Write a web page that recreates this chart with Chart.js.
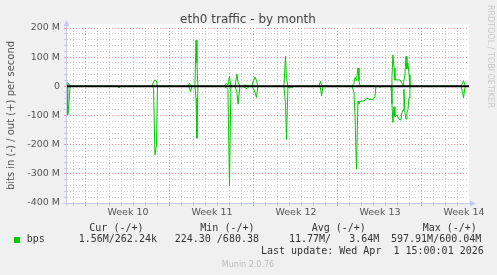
<!DOCTYPE html>
<html>
<head>
<meta charset="utf-8">
<script src="https://cdn.jsdelivr.net/npm/chart.js@4/dist/chart.umd.min.js"></script>
<style>
  html, body { margin: 0; padding: 0; background: #f0f0f0; }
  #wrap { width: 497px; height: 275px; }
</style>
</head>
<body>
<div id="wrap"><canvas id="traffic" width="497" height="275"></canvas></div>
<script>
// days since Monday of week 10 (2 h samples)
const days = [
  -1.58, -1.54, -1.50, -1.42, -1.33,
  2.67, 2.75, 2.83,
  5.50, 5.63, 5.75, 5.88, 5.96,
  8.50, 8.63, 8.71, 8.83,
  9.08, 9.17, 9.25, 9.33,
  11.58, 11.67, 11.83, 11.96, 12.08,
  12.42, 12.58, 12.67, 12.83,
  13.08, 13.25, 13.42, 13.58,
  13.83, 13.92, 14.08, 14.21, 14.33,
  16.50, 16.63, 16.71, 16.83, 17.17, 17.25,
  19.42, 19.54, 19.63, 19.75,
  22.17, 22.33, 22.42, 22.54, 22.67, 22.75, 22.83, 23.17, 23.42, 23.67, 23.92, 24.08, 24.17,
  24.42, 24.50, 24.67,
  25.42, 25.50, 25.58, 25.67, 25.75, 25.92, 26.04, 26.17, 26.25, 26.33, 26.42, 26.50,
  26.58, 26.67, 26.75, 26.83, 26.92, 27.00,
  31.25, 31.38, 31.46, 31.58, 31.67
];
// out (+) in Mbit/s
const outMbps = [
  0, 5, 13, 8, 0,
  0, 0, 0,
  0, 15, 22, 18, 0,
  0, 10, 5, 0,
  0, 158, 80, 0,
  0, 10, 5, 34, 0,
  0, 42, 15, 0,
  0, 5, 3, 0,
  0, 15, 32, 20, 0,
  0, 103, 30, 0, 0, 0,
  0, 17, 5, 0,
  0, 10, 30, 20, 63, 20, 3, 3, 3, 3, 3, 0, 0,
  0, 0, 0,
  0, 30, 108, 63, 22, 22, 22, 22, 22, 10, 0, 0,
  40, 103, 60, 80, 40, 0,
  0, 10, 19, 5, 0
];
// in (-) in Mbit/s
const inMbps = [
  0, 30, 97, 60, 0,
  0, 5, 0,
  0, 5, 235, 200, 0,
  0, 5, 18, 0,
  0, 40, 178, 0,
  0, 3, 10, 342, 0,
  0, 20, 61, 0,
  0, 5, 8, 0,
  0, 5, 20, 38, 0,
  0, 60, 182, 3, 3, 0,
  0, 5, 33, 0,
  0, 20, 100, 284, 50, 60, 52, 50, 41, 45, 46, 35, 0,
  0, 3, 0,
  0, 60, 124, 70, 104, 98, 110, 115, 113, 90, 81, 10,
  90, 112, 90, 81, 40, 0,
  0, 20, 39, 5, 0
];

const xMin = -1.58, xMax = 31.92;
const yTicks = [200, 100, 0, -100, -200, -300, -400];
const yTickLabels = ['200 M', '100 M', '0', '-100 M', '-200 M', '-300 M', '-400 M'];
const weekCenters = [3.5, 10.5, 17.5, 24.5, 31.5];
const weekLabels = ['Week 10', 'Week 11', 'Week 12', 'Week 13', 'Week 14'];

const legendHeaders = ['Cur (-/+)', 'Min (-/+)', 'Avg (-/+)', 'Max (-/+)'];
const legendValues = ['1.56M/262.24k', '224.30 /680.38', '11.77M/   3.64M', '597.91M/600.04M'];
const lastUpdate = 'Last update: Wed Apr  1 15:00:01 2026';

const GREEN = '#00cc00';
const RED_GRID = 'rgba(255, 110, 110, 0.75)';
const GRAY_GRID = '#cccccc';
const AXIS = '#c8c8f8';

const outPoints = days.map((d, i) => ({ x: d, y: outMbps[i] }));
const inPoints = days.map((d, i) => ({ x: d, y: -inMbps[i] }));

// munin-ish frame: grey canvas, white plot, axes with arrows, texts
const muninFrame = {
  id: 'muninFrame',
  beforeDraw(chart) {
    const { ctx, chartArea: a } = chart;
    ctx.save();
    ctx.fillStyle = '#f0f0f0';
    ctx.fillRect(0, 0, chart.width, chart.height);
    ctx.fillStyle = '#ffffff';
    ctx.fillRect(a.left, a.top - 4, a.right - a.left, a.bottom - a.top + 4);
    ctx.restore();
  },
  afterDraw(chart) {
    const { ctx, chartArea: a } = chart;
    ctx.save();
    // axes
    ctx.strokeStyle = AXIS;
    ctx.fillStyle = AXIS;
    ctx.lineWidth = 1;
    ctx.beginPath();
    ctx.moveTo(a.left - 0.5, a.bottom + 3);
    ctx.lineTo(a.left - 0.5, a.top - 4);
    ctx.moveTo(a.left - 4, a.bottom + 0.5);
    ctx.lineTo(a.right + 3, a.bottom + 0.5);
    ctx.stroke();
    ctx.beginPath();
    ctx.moveTo(a.left - 0.5, a.top - 8);
    ctx.lineTo(a.left - 3.5, a.top - 2);
    ctx.lineTo(a.left + 2.5, a.top - 2);
    ctx.closePath();
    ctx.fill();
    ctx.beginPath();
    ctx.moveTo(a.right + 7, a.bottom + 0.5);
    ctx.lineTo(a.right + 1, a.bottom - 2.5);
    ctx.lineTo(a.right + 1, a.bottom + 3.5);
    ctx.closePath();
    ctx.fill();

    // title
    ctx.fillStyle = '#444';
    ctx.font = '12px "DejaVu Sans"';
    ctx.textAlign = 'center';
    ctx.textBaseline = 'alphabetic';
    ctx.fillText('eth0 traffic - by month', 248, 23);

    // watermark
    ctx.save();
    ctx.translate(490, 5);
    ctx.rotate(Math.PI / 2);
    ctx.fillStyle = '#c8c8c8';
    ctx.font = '8px "DejaVu Sans"';
    ctx.textAlign = 'left';
    ctx.textBaseline = 'middle';
    ctx.fillText('RRDTOOL / TOBI OETIKER', 0, 0);
    ctx.restore();

    // legend
    ctx.font = '10px "DejaVu Sans Mono"';
    ctx.fillStyle = '#333';
    ctx.textAlign = 'left';
    ctx.textBaseline = 'middle';
    const headX = [89.3, 200.3, 311.7, 422.7];
    const valX = [78.7, 174.7, 289, 391];
    legendHeaders.forEach((h, i) => ctx.fillText(h, headX[i], 228));
    ctx.fillText('bps', 26.7, 239.5);
    legendValues.forEach((v, i) => ctx.fillText(v, valX[i], 239.5));
    ctx.fillText(lastUpdate, 261, 251.7);
    ctx.fillStyle = GREEN;
    ctx.fillRect(14, 237, 6, 6);

    ctx.fillStyle = '#bbb';
    ctx.font = '8px "DejaVu Sans"';
    ctx.textAlign = 'center';
    ctx.fillText('Munin 2.0.76', 248, 264.5);
    ctx.restore();
  }
};

new Chart(document.getElementById('traffic'), {
  type: 'line',
  data: {
    datasets: [
      {
        label: 'zero',
        data: [{ x: xMin, y: 0 }, { x: xMax, y: 0 }],
        borderColor: '#000',
        borderWidth: 2,
        pointRadius: 0
      },
      {
        label: 'out',
        data: outPoints,
        borderColor: GREEN,
        borderWidth: 1,
        pointRadius: 0,
        tension: 0
      },
      {
        label: 'in',
        data: inPoints,
        borderColor: GREEN,
        borderWidth: 1,
        pointRadius: 0,
        tension: 0
      }
    ]
  },
  options: {
    responsive: false,
    animation: false,
    layout: { padding: { top: 28, right: 28, bottom: 52, left: 0 } },
    plugins: {
      legend: { display: false },
      tooltip: { enabled: false }
    },
    scales: {
      x: {
        type: 'linear',
        min: xMin,
        max: xMax,
        afterBuildTicks: (scale) => {
          const ticks = [];
          for (let v = -1.5; v <= 31.5; v += 0.5) ticks.push({ value: v });
          scale.ticks = ticks;
        },
        afterFit: (scale) => { scale.height = 20; },
        grid: {
          color: (c) => {
            const v = c.tick ? c.tick.value : 0;
            if (v % 1 !== 0) return 'rgba(0,0,0,0)';
            return v % 7 === 0 ? RED_GRID : GRAY_GRID;
          },
          lineWidth: 1,
          drawTicks: true,
          tickLength: 3
        },
        border: { display: false, dash: [1, 2] },
        ticks: {
          autoSkip: false,
          maxRotation: 0,
          padding: 1,
          color: '#555',
          font: { family: 'DejaVu Sans', size: 9.5 },
          callback: (v) => {
            const i = weekCenters.indexOf(v);
            return i >= 0 ? weekLabels[i] : '';
          }
        }
      },
      y: {
        type: 'linear',
        min: -400,
        max: 200,
        afterBuildTicks: (scale) => {
          const ticks = [];
          for (let v = -400; v <= 200; v += 20) ticks.push({ value: v });
          scale.ticks = ticks;
        },
        afterFit: (scale) => { scale.width = 67; },
        grid: {
          color: (c) => {
            const v = c.tick ? c.tick.value : 0;
            return v % 100 === 0 ? RED_GRID : GRAY_GRID;
          },
          lineWidth: 1,
          drawTicks: true,
          tickLength: 3
        },
        border: { display: false, dash: [1, 2] },
        ticks: {
          autoSkip: false,
          padding: 4,
          color: '#555',
          font: { family: 'DejaVu Sans', size: 9.5 },
          callback: (v) => {
            const i = yTicks.indexOf(v);
            return i >= 0 ? yTickLabels[i] : '';
          }
        },
        title: {
          display: true,
          text: 'bits in (-) / out (+) per second',
          color: '#555',
          font: { family: 'DejaVu Sans', size: 10 },
          padding: { top: 5, bottom: 0 }
        }
      }
    }
  },
  plugins: [muninFrame]
});
</script>
</body>
</html>
